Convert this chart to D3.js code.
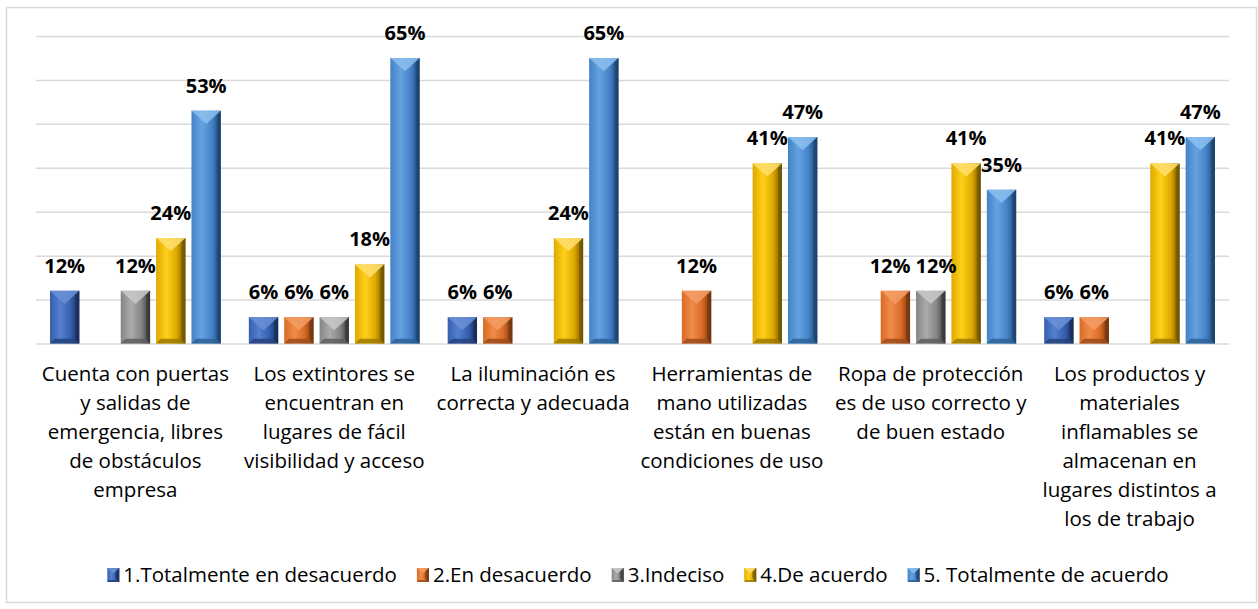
<html>
<head>
  <title>Condiciones de seguridad</title>
  <script src="https://d3js.org/d3.v7.min.js"></script>
  <style>
    body { margin: 0; background: #fff; }
    text { font-family: "Open Sans", "Noto Sans", sans-serif; fill: #000; }
    .gridlines line { stroke: #d9d9d9; stroke-width: 1.5; }
    .gridlines .domain { stroke: none; }
  </style>
</head>
<body>
  <svg id="chart" width="1258" height="609"></svg>
  <script>
    // categories (line breaks as in the picture)
    const categories = [
      "Cuenta con puertas\ny salidas de\nemergencia, libres\nde obstáculos\nempresa",
      "Los extintores se\nencuentran en\nlugares de fácil\nvisibilidad y acceso",
      "La iluminación es\ncorrecta y adecuada",
      "Herramientas de\nmano utilizadas\nestán en buenas\ncondiciones de uso",
      "Ropa de protección\nes de uso correcto y\nde buen estado",
      "Los productos y\nmateriales\ninflamables se\nalmacenan en\nlugares distintos a\nlos de trabajo"
    ];
    const seriesNames = [
      "1.Totalmente en desacuerdo",
      "2.En desacuerdo",
      "3.Indeciso",
      "4.De acuerdo",
      "5. Totalmente de acuerdo"
    ];
    // one array per series, values in %, 0 = no bar
    const totDesacuerdo = [12, 6, 6, 0, 0, 6];
    const enDesacuerdo = [0, 6, 6, 12, 12, 6];
    const indeciso = [12, 6, 0, 0, 12, 0];
    const deAcuerdo = [24, 18, 24, 41, 41, 41];
    const totAcuerdo = [53, 65, 65, 47, 35, 47];
    const series = [totDesacuerdo, enDesacuerdo, indeciso, deAcuerdo, totAcuerdo];
    const yTicks = [0, 10, 20, 30, 40, 50, 60, 70];

    // shading for the bevelled bars: base, light, dark, top face, bottom face
    const palette = [
      { base: "#365fae", light: "#5480cf", dark: "#172c58", top: "#6a90d6", bottom: "#26437c" },
      { base: "#d96a25", light: "#f08c4a", dark: "#70340e", top: "#f39e66", bottom: "#9c4b1b" },
      { base: "#858585", light: "#ababab", dark: "#363636", top: "#c9c9c9", bottom: "#5e5e5e" },
      { base: "#dea900", light: "#ffd01a", dark: "#6e5300", top: "#ffdf6e", bottom: "#9e7900" },
      { base: "#4482c8", light: "#64a2e0", dark: "#1b416c", top: "#8cbfee", bottom: "#2c6198" }
    ];

    const svg = d3.select("svg#chart");
    const plot = { left: 36, right: 1229, top: 36, bottom: 343.5 };

    // chart frame
    svg.append("rect")
      .attr("x", 6.5).attr("y", 7.5)
      .attr("width", 1250).attr("height", 595)
      .attr("fill", "#fff").attr("stroke", "#d9d9d9").attr("stroke-width", 1.5);

    const defs = svg.append("defs");
    palette.forEach((c, i) => {
      const g = defs.append("linearGradient").attr("id", "grad" + i)
        .attr("x1", "0%").attr("x2", "100%").attr("y1", "0%").attr("y2", "0%");
      g.append("stop").attr("offset", "0%").attr("stop-color", c.base);
      g.append("stop").attr("offset", "35%").attr("stop-color", c.light);
      g.append("stop").attr("offset", "70%").attr("stop-color", c.base);
      g.append("stop").attr("offset", "100%").attr("stop-color", c.dark);
    });

    const y = d3.scaleLinear().domain([0, 70]).range([plot.bottom, plot.top]);
    const x0 = d3.scaleBand().domain(d3.range(categories.length)).range([plot.left, plot.right]);
    const x1 = d3.scaleBand().domain(d3.range(series.length))
      .range([14, x0.bandwidth() - 14]).paddingInner(0.17);

    // gridlines
    svg.append("g")
      .attr("class", "gridlines")
      .attr("transform", `translate(${plot.left},0)`)
      .call(d3.axisLeft(y).tickValues(yTicks).tickSize(-(plot.right - plot.left)).tickFormat(""));

    // draws one bevelled bar
    function bevelBar(g, x, yTop, w, h, si) {
      const c = palette[si];
      const t = Math.min(w * 0.45, h * 0.5);
      const b = Math.min(w * 0.16, h * 0.22);
      g.append("rect").attr("x", x).attr("y", yTop).attr("width", w).attr("height", h)
        .attr("fill", `url(#grad${si})`);
      g.append("polygon")
        .attr("points", [[x, yTop], [x + w, yTop], [x + w / 2, yTop + t]].join(" "))
        .attr("fill", c.top).attr("opacity", 0.85);
      g.append("polygon")
        .attr("points", [[x, yTop + h], [x + w, yTop + h], [x + w - b, yTop + h - b], [x + b, yTop + h - b]].join(" "))
        .attr("fill", c.bottom).attr("opacity", 0.85);
      g.append("polygon")
        .attr("points", [[x + w, yTop], [x + w, yTop + h], [x + w - 4, yTop + h - 4], [x + w - 4, yTop + 4]].join(" "))
        .attr("fill", c.dark).attr("opacity", 0.6);
    }

    const bars = svg.append("g").attr("id", "bars");
    const labels = svg.append("g").attr("id", "labels");
    categories.forEach((cat, ci) => {
      let placed = [];
      series.forEach((vals, si) => {
        const v = vals[ci];
        if (!v) return;
        const bx = x0(ci) + x1(si);
        const w = x1.bandwidth();
        bevelBar(bars.append("g"), bx, y(v), w, y(0) - y(v), si);
        const lbl = labels.append("text")
          .attr("x", bx + w / 2)
          .attr("y", y(v) - 18)
          .attr("text-anchor", "middle")
          .attr("font-size", 20)
          .attr("font-weight", "bold")
          .text(v + "%");
        placed.push({ node: lbl, cx: bx + w / 2, y: y(v), w: lbl.node().getComputedTextLength() });
      });
      // push apart labels that sit at the same height and collide
      for (let i = 1; i < placed.length; i++) {
        const a = placed[i - 1], b = placed[i];
        if (Math.abs(a.y - b.y) > 5) continue;
        const overlap = (a.cx + a.w / 2 + 5) - (b.cx - b.w / 2);
        if (overlap > 0) {
          a.cx -= overlap / 2; b.cx += overlap / 2;
          a.node.attr("x", a.cx); b.node.attr("x", b.cx);
        }
      }
    });

    // category labels
    const catLabels = svg.append("g").attr("id", "categories");
    categories.forEach((cat, ci) => {
      const t = catLabels.append("text")
        .attr("x", x0(ci) + x0.bandwidth() / 2)
        .attr("y", 381)
        .attr("text-anchor", "middle")
        .attr("font-size", 20.5);
      cat.split("\n").forEach((line, li) => {
        t.append("tspan").attr("x", x0(ci) + x0.bandwidth() / 2)
          .attr("dy", li === 0 ? 0 : 29).text(line);
      });
    });

    // legend
    const legend = svg.append("g").attr("id", "legend");
    let lx = 0;
    seriesNames.forEach((name, si) => {
      const item = legend.append("g").attr("transform", `translate(${lx},0)`);
      bevelBar(item, 0, -7, 12, 14, si);
      const txt = item.append("text").attr("x", 16).attr("y", 7)
        .attr("font-size", 20.5).text(name);
      lx += 16 + txt.node().getComputedTextLength() + 20;
    });
    const legendWidth = lx - 20;
    legend.attr("transform", `translate(${638 - legendWidth / 2},575)`);
  </script>
</body>
</html>
